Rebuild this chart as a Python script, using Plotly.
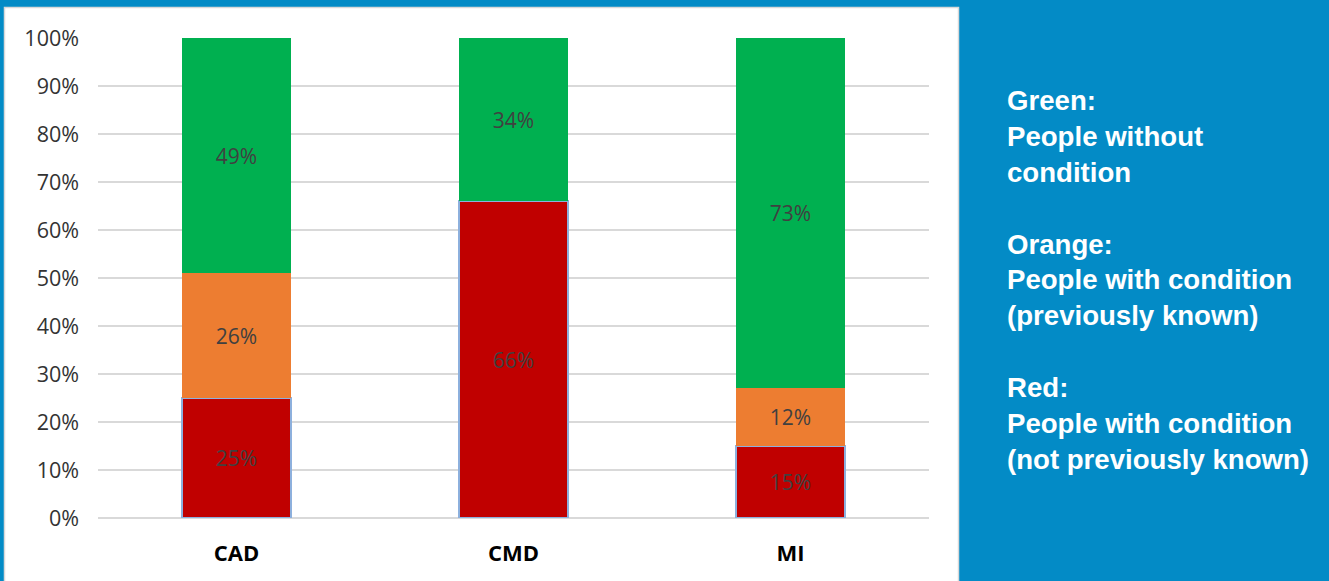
import plotly.graph_objects as go

categories = ["CAD", "CMD", "MI"]
red_not_known = [0.25, 0.66, 0.15]
orange_known = [0.26, 0.0, 0.12]
green_without = [0.49, 0.34, 0.73]
y_ticks = [i / 10 for i in range(11)]
legend_lines = [
    "Green:", "People without", "condition", "",
    "Orange:", "People with condition", "(previously known)", "",
    "Red:", "People with condition", "(not previously known)",
]

BLUE = "#038BC6"
W, H = 1329, 581
L, R, T, B = 98, 1329 - 929, 38, 581 - 518
PW, PH = W - L - R, H - T - B


def px_x(p):
    return (p - L) / PW


def px_y(p):
    return (H - B - p) / PH


def labels(vals):
    return [f"{round(v * 100)}%" if v > 0 else "" for v in vals]


fig = go.Figure()
series = [
    (red_not_known, "#C00000", dict(color="#8DB0DD", width=2)),
    (orange_known, "#ED7D31", dict(width=0)),
    (green_without, "#00B050", dict(width=0)),
]
for vals, col, line in series:
    fig.add_trace(go.Bar(
        x=categories, y=vals, marker=dict(color=col, line=line),
        text=labels(vals), textposition="inside", insidetextanchor="middle",
        textangle=0, constraintext="none",
        textfont=dict(family="Open Sans", size=21, color="#404040"),
        hoverinfo="skip",
    ))

fig.add_shape(type="rect", xref="paper", yref="paper",
              x0=px_x(4.5), x1=px_x(958.5), y0=px_y(7.5), y1=px_y(600),
              fillcolor="white", line=dict(color="#D9D9D9", width=1.5),
              layer="below")

fig.add_annotation(
    xref="paper", yref="paper", x=px_x(1005), y=px_y(280),
    xanchor="left", yanchor="middle", align="left", showarrow=False,
    text="<br>".join(legend_lines),
    font=dict(family="Liberation Sans", size=27.6, color="white", weight="bold"),
)

fig.update_layout(
    width=W, height=H, barmode="stack", bargap=0.603, showlegend=False,
    paper_bgcolor=BLUE, plot_bgcolor="white",
    margin=dict(l=L, r=R, t=T, b=B, pad=0),
    xaxis=dict(showgrid=False, showline=False, zeroline=False,
               tickfont=dict(family="Open Sans", size=22, color="black", weight="bold"),
               ticklabelstandoff=20, fixedrange=True),
    yaxis=dict(range=[0, 1], tickvals=y_ticks, tickformat=".0%",
               showgrid=True, gridcolor="#D9D9D9", gridwidth=2,
               zeroline=True, zerolinecolor="#D9D9D9", zerolinewidth=2,
               showline=False, ticks="",
               tickfont=dict(family="Open Sans", size=21.5, color="#333333"),
               ticklabelstandoff=18, fixedrange=True),
)

fig.write_html("out.html", config={"displayModeBar": False})
